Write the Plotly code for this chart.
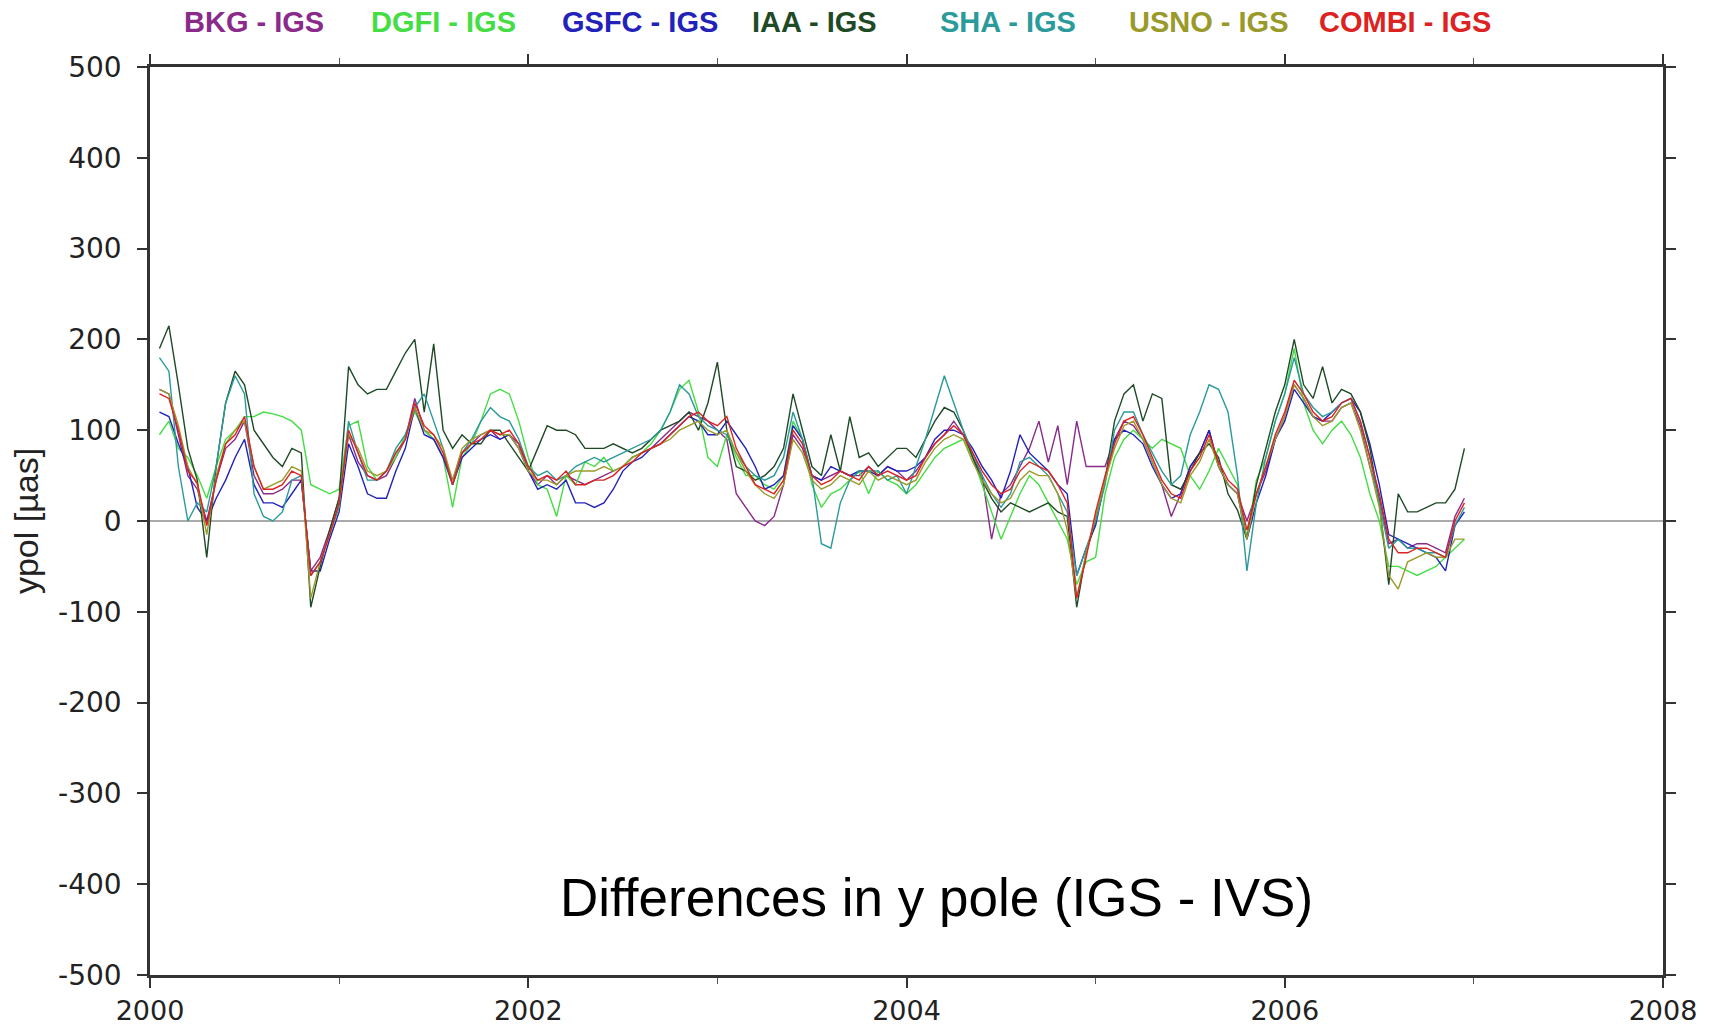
import plotly.graph_objects as go

# epochs (decimal years), 0.05-yr grid from 2000.05 to 2006.95
epochs = [round(2000.05 + 0.05 * i, 2) for i in range(139)]

bkg = [145, 140, 95, 50, 35, 0, 45, 80, 90, 110, 50, 30, 30, 35, 45, 45, -55, -40, -10,
       25, 95, 65, 50, 45, 50, 70, 90, 135, 100, 90, 70, 45, 75, 85, 95, 100, 90, 95, 85,
       55, 40, 50, 40, 50, 45, 40, 45, 50, 55, 60, 70, 75, 80, 90, 100, 110, 120, 115, 110,
       100, 90, 30, 15, 0, -5, 5, 40, 95, 80, 50, 45, 50, 55, 50, 50, 60, 50, 60, 55,
       45, 55, 70, 85, 95, 110, 95, 70, 50, -20, 30, 40, 60, 80, 110, 65, 105, 40, 110, 60,
       60, 60, 90, 110, 105, 90, 65, 40, 5, 30, 60, 75, 100, 60, 40, 30, 0, 30, 55, 90,
       115, 150, 135, 115, 110, 110, 125, 130, 105, 60, 25, -25, -20, -30, -25, -25, -30, -35, 5, 25]

dgfi = [95, 110, 80, 70, 50, 25, 60, 90, 100, 115, 115, 120, 118, 115, 110, 100, 40, 35, 30,
        35, 105, 110, 60, 45, 55, 70, 95, 120, 100, 90, 70, 15, 70, 85, 110, 140, 145, 140, 110,
        70, 40, 35, 5, 50, 40, 65, 60, 70, 55, 60, 70, 75, 85, 100, 120, 145, 155, 120, 70,
        60, 95, 70, 50, 50, 40, 35, 50, 110, 90, 40, 15, 30, 35, 45, 55, 30, 55, 45, 40,
        30, 40, 55, 70, 80, 85, 90, 70, 40, 10, -20, 5, 30, 50, 40, 20, 0, -20, -70, -45,
        -40, 30, 70, 90, 100, 90, 80, 90, 85, 80, 50, 35, 55, 80, 60, 40, -20, 45, 70, 110,
        140, 190, 130, 100, 85, 100, 110, 95, 70, 30, 0, -50, -50, -55, -60, -55, -50, -40, -30, -20]

gsfc = [120, 115, 85, 60, 15, 0, 25, 45, 70, 90, 40, 20, 20, 15, 30, 45, -55, -55, -20,
        10, 85, 60, 30, 25, 25, 55, 80, 125, 95, 90, 70, 40, 70, 80, 90, 95, 90, 95, 80,
        55, 35, 40, 35, 45, 20, 20, 15, 20, 35, 55, 65, 70, 80, 85, 95, 105, 115, 110, 95,
        95, 110, 95, 80, 60, 35, 40, 50, 105, 90, 50, 45, 60, 55, 50, 55, 55, 50, 60, 55,
        55, 60, 70, 90, 100, 100, 95, 80, 60, 45, 25, 55, 95, 75, 65, 55, 40, 30, -60, -30,
        -5, 45, 90, 100, 95, 85, 60, 40, 25, 30, 60, 75, 100, 60, 40, 30, -20, 20, 50, 90,
        110, 145, 130, 115, 110, 120, 130, 135, 120, 85, 40, -15, -20, -25, -30, -35, -40, -55, -5, 10]

iaa = [190, 215, 150, 80, 45, -40, 60, 130, 165, 150, 100, 85, 70, 60, 80, 75, -95, -50, -10,
       25, 170, 150, 140, 145, 145, 165, 185, 200, 120, 195, 100, 80, 95, 85, 85, 100, 100, 85, 70,
       55, 80, 105, 100, 100, 95, 80, 80, 80, 85, 80, 75, 80, 90, 100, 105, 110, 120, 100, 130,
       175, 100, 60, 55, 45, 50, 60, 80, 140, 100, 60, 50, 95, 55, 115, 70, 75, 60, 70, 80,
       80, 70, 90, 110, 125, 120, 100, 70, 45, 25, 10, 20, 15, 10, 15, 20, 10, 5, -95, -35,
       0, 45, 110, 140, 150, 110, 140, 135, 40, 35, 55, 75, 85, 70, 30, 12, -20, 40, 80, 120,
       150, 200, 150, 135, 170, 130, 145, 140, 120, 80, 20, -70, 30, 10, 10, 15, 20, 20, 35, 80]

sha = [180, 165, 60, 0, 20, 10, 60, 130, 160, 140, 30, 5, 0, 10, 45, 50, -60, -45, -15,
       15, 110, 75, 45, 45, 55, 80, 95, 125, 140, 110, 80, 40, 75, 90, 110, 125, 115, 110, 90,
       60, 50, 55, 45, 50, 60, 65, 70, 65, 70, 75, 80, 85, 90, 100, 120, 150, 140, 115, 105,
       100, 95, 75, 60, 50, 45, 50, 70, 120, 90, 50, -25, -30, 20, 45, 55, 55, 55, 45, 50,
       30, 60, 90, 125, 160, 130, 100, 75, 50, 30, 15, 30, 65, 70, 60, 50, 30, 10, -60, -30,
       0, 40, 100, 120, 120, 95, 75, 55, 40, 50, 95, 120, 150, 145, 120, 50, -55, 20, 70, 110,
       140, 180, 140, 125, 115, 120, 130, 135, 110, 70, 20, -30, -20, -30, -30, -35, -35, -40, -5, 15]

usno = [145, 140, 105, 60, 40, -15, 50, 85, 100, 110, 60, 35, 40, 45, 60, 55, -85, -45, -15,
        20, 95, 80, 55, 50, 55, 75, 90, 125, 100, 95, 80, 45, 80, 90, 95, 100, 95, 95, 80,
        55, 45, 45, 40, 50, 55, 55, 55, 60, 55, 60, 70, 75, 80, 85, 90, 100, 105, 110, 100,
        95, 100, 75, 55, 40, 30, 25, 40, 90, 75, 45, 35, 40, 50, 45, 40, 55, 45, 50, 45,
        40, 45, 65, 80, 90, 95, 90, 65, 45, 30, 20, 25, 45, 55, 50, 50, 30, -10, -85, -35,
        5, 45, 80, 105, 110, 90, 65, 40, 25, 20, 50, 65, 90, 60, 40, 30, -20, 30, 60, 90,
        115, 150, 135, 115, 105, 110, 125, 130, 100, 60, 15, -60, -75, -45, -40, -35, -40, -40, -20, -20]

combi = [140, 135, 100, 55, 42, -5, 45, 85, 95, 115, 60, 35, 35, 40, 55, 50, -60, -45, -15,
         20, 100, 75, 50, 45, 55, 75, 90, 130, 105, 95, 75, 40, 75, 85, 90, 100, 95, 100, 85,
         60, 45, 50, 45, 55, 40, 40, 45, 45, 50, 60, 65, 75, 80, 85, 95, 105, 115, 120, 110,
         105, 115, 80, 60, 40, 35, 30, 45, 100, 85, 50, 40, 45, 55, 50, 45, 60, 50, 55, 50,
         45, 50, 70, 85, 95, 105, 95, 75, 55, 40, 30, 35, 55, 65, 60, 55, 40, 20, -85, -40,
         10, 50, 85, 110, 115, 95, 70, 45, 30, 25, 55, 70, 95, 65, 45, 35, -10, 30, 60, 95,
         120, 155, 140, 120, 110, 115, 130, 135, 110, 70, 30, -20, -35, -35, -30, -30, -35, -40, 0, 20]

series_names = ["BKG - IGS", "DGFI - IGS", "GSFC - IGS", "IAA - IGS", "SHA - IGS", "USNO - IGS", "COMBI - IGS"]
series_values = [bkg, dgfi, gsfc, iaa, sha, usno, combi]
series_colors = ["#8a2a8a", "#44dd44", "#2222bb", "#1f4a26", "#2a9a9a", "#9a9a2a", "#dd2222"]
legend_x = [0.0687, 0.1937, 0.3239, 0.4389, 0.5671, 0.6999, 0.8295]

x_ticks = [2000, 2002, 2004, 2006, 2008]
y_ticks = [-500, -400, -300, -200, -100, 0, 100, 200, 300, 400, 500]

fig = go.Figure()
for name, vals, col in zip(series_names, series_values, series_colors):
    fig.add_trace(go.Scatter(x=epochs, y=vals, mode="lines", name=name,
                             line=dict(color=col, width=1.4), showlegend=False))

for name, col, lx in zip(series_names, series_colors, legend_x):
    fig.add_annotation(text="<b>" + name + "</b>", x=lx, y=1.0496, xref="paper", yref="paper",
                       xanchor="center", yanchor="middle", showarrow=False,
                       font=dict(family="Liberation Sans, Arial", size=29, color=col))

fig.add_annotation(text="Differences in y pole (IGS - IVS)", x=0.520, y=0.0859,
                   xref="paper", yref="paper", xanchor="center", yanchor="middle",
                   showarrow=False, font=dict(family="Liberation Sans, Arial", size=53, color="#000"))

fig.update_layout(
    width=1716, height=1029,
    margin=dict(l=150, r=53, t=67, b=54),
    paper_bgcolor="white", plot_bgcolor="white",
    font=dict(family="DejaVu Sans", color="#222"),
)
fig.update_xaxes(range=[2000, 2008], tickvals=x_ticks, ticktext=[str(v) for v in x_ticks],
                 ticks="outside", ticklen=10, tickwidth=1.5, tickcolor="#333", ticklabelstandoff=0,
                 minor=dict(dtick=1, tick0=2000, ticks="outside", ticklen=6, tickwidth=1, tickcolor="#555"),
                 showline=True, linewidth=2.5, linecolor="#333", mirror="ticks", automargin=False,
                 showgrid=False, zeroline=False, tickfont=dict(size=27, family="DejaVu Sans", color="#222"))
fig.update_yaxes(range=[-500, 500], tickvals=y_ticks, ticktext=[str(v) for v in y_ticks],
                 ticks="outside", ticklen=10, tickwidth=1.5, tickcolor="#333", ticklabelstandoff=10,
                 showline=True, linewidth=2.5, linecolor="#333", mirror="ticks", automargin=False,
                 showgrid=False, zeroline=True, zerolinecolor="#aaaaaa", zerolinewidth=1.5,
                 tickfont=dict(size=28, family="DejaVu Sans", color="#222"),
                 title=dict(text="ypol [µas]", standoff=10,
                            font=dict(size=34, family="Liberation Sans, Arial", color="#222")))

fig.write_html("out.html", config={"displayModeBar": False},
               post_script="document.body.style.margin='0px';")
